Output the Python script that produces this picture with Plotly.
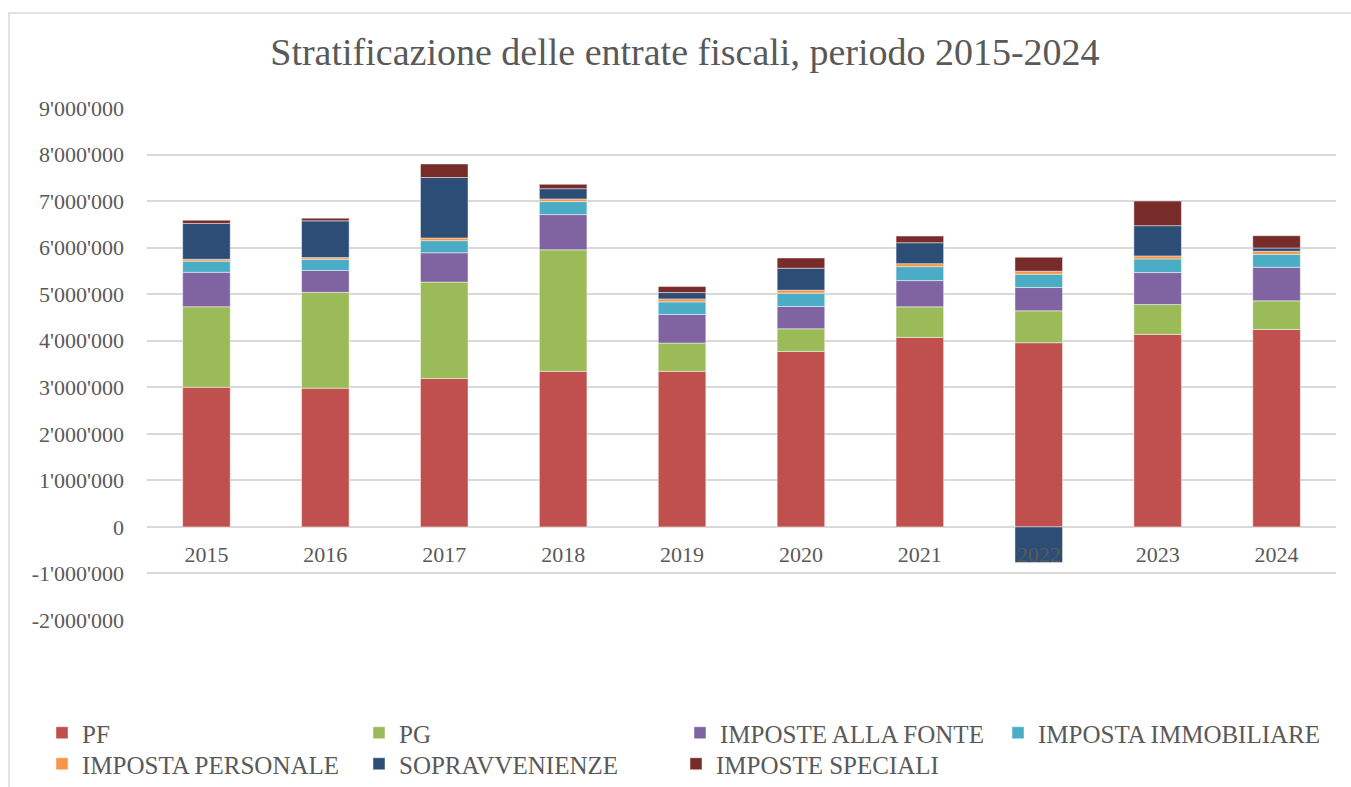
import plotly.graph_objects as go

years = ["2015", "2016", "2017", "2018", "2019", "2020", "2021", "2022", "2023", "2024"]

pf = [3000000, 2980000, 3190000, 3343000, 3343000, 3771000, 4071000, 3957000, 4136000, 4243000]
pg = [1730000, 2060000, 2070000, 2610000, 607000, 486000, 657000, 686000, 643000, 614000]
imposte_fonte = [740000, 470000, 630000, 757000, 614000, 479000, 564000, 500000, 686000, 721000]
imposta_immobiliare = [240000, 240000, 260000, 279000, 271000, 286000, 300000, 286000, 293000, 279000]
imposta_personale = [40000, 36000, 57000, 57000, 64000, 64000, 64000, 64000, 64000, 64000]
sopravvenienze = [770000, 790000, 1300000, 221000, 136000, 471000, 450000, -767000, 650000, 71000]
imposte_speciali = [70000, 57000, 290000, 93000, 129000, 221000, 143000, 300000, 529000, 264000]

series_names = ["PF", "PG", "IMPOSTE ALLA FONTE", "IMPOSTA IMMOBILIARE",
                "IMPOSTA PERSONALE", "SOPRAVVENIENZE", "IMPOSTE SPECIALI"]
series_values = [pf, pg, imposte_fonte, imposta_immobiliare,
                 imposta_personale, sopravvenienze, imposte_speciali]
series_colors = ["#C0504D", "#9BBB59", "#8064A2", "#4BACC6",
                 "#F79646", "#2C4D75", "#772C2A"]
legend_groups = ["legend", "legend", "legend2", "legend4",
                 "legend3", "legend3", "legend3"]

ytick_vals = [-2000000, -1000000, 0, 1000000, 2000000, 3000000, 4000000,
              5000000, 6000000, 7000000, 8000000, 9000000]
ytick_text = ["-2'000'000", "-1'000'000", "0", "1'000'000", "2'000'000", "3'000'000",
              "4'000'000", "5'000'000", "6'000'000", "7'000'000", "8'000'000", "9'000'000"]

title_text = "Stratificazione delle entrate fiscali, periodo 2015-2024"

FONT = "Liberation Serif, DejaVu Serif, serif"
GREY = "#595959"

fig = go.Figure()
for name, vals, col, lg in zip(series_names, series_values, series_colors, legend_groups):
    fig.add_trace(go.Bar(
        x=years, y=vals, name=name, legend=lg,
        marker=dict(color=col, line=dict(color="rgba(255,255,255,0.45)", width=1)),
    ))

W, H = 1351, 787
ml, mr, mt, mb = 147, 15, 108, 167
ymin, ymax = -2000000, 9000000
zero_frac = (0 - ymin) / (ymax - ymin)
pw, ph = W - ml - mr, H - mt - mb
col_w = 318

legend_common = dict(orientation="h", xref="container", yref="container",
                     xanchor="left", yanchor="middle",
                     font=dict(family=FONT, size=25, color=GREY),
                     traceorder="normal", itemclick=False, bgcolor="rgba(0,0,0,0)")
multi = dict(entrywidth=col_w - 46, entrywidthmode="pixels")
row1 = 1 - 733 / H
row2 = 1 - 764 / H

fig.update_layout(
    width=W, height=H,
    barmode="relative",
    bargap=0.6,
    plot_bgcolor="white",
    paper_bgcolor="white",
    margin=dict(l=ml, r=mr, t=mt, b=mb, autoexpand=False),
    font=dict(family=FONT, color=GREY, size=22),
    title=dict(text=title_text, x=0.507, xref="container", xanchor="center",
               y=1 - 52 / H, yref="container", yanchor="middle",
               font=dict(family=FONT, size=38, color=GREY)),
    xaxis=dict(type="category", anchor="free", position=zero_frac,
               showgrid=False, showline=False, ticks="", zeroline=False,
               tickfont=dict(family=FONT, size=22, color=GREY),
               ticklabelstandoff=12),
    yaxis=dict(range=[ymin, ymax], tickvals=ytick_vals, ticktext=ytick_text,
               showgrid=True, gridcolor="#D9D9D9", gridwidth=1.5,
               zeroline=True, zerolinecolor="#D9D9D9", zerolinewidth=1.5,
               showline=False, ticks="",
               tickfont=dict(family=FONT, size=22, color=GREY),
               ticklabelstandoff=22),
    legend=dict(legend_common, **multi, x=42 / W, y=row1),
    legend2=dict(legend_common, x=(697 - 17) / W, y=row1),
    legend4=dict(legend_common, x=(1015 - 17) / W, y=row1),
    legend3=dict(legend_common, **multi, x=42 / W, y=row2),
    shapes=[dict(type="rect", xref="paper", yref="paper",
                 x0=(9 - ml) / pw, x1=(1360 - ml) / pw,
                 y0=(H - mb - 800) / ph, y1=(H - mb - 13) / ph,
                 line=dict(color="#D9D9D9", width=1.5), layer="below")],
)

fig.write_html("out.html", config={"displayModeBar": False},
               post_script="document.body.style.margin='0px';document.body.style.overflow='hidden';")
